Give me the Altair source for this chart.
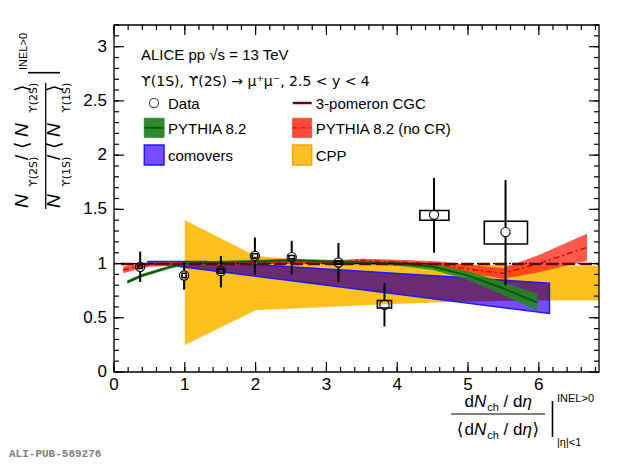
import altair as alt
import numpy as np
import pandas as pd

# ---------------- values ----------------
data_x  = [0.37, 0.99, 1.51, 1.99, 2.51, 3.17, 3.82, 4.52, 5.53]
data_y  = [0.97, 0.89, 0.93, 1.07, 1.06, 1.01, 0.62, 1.45, 1.29]
stat_lo = [0.83, 0.76, 0.78, 0.90, 0.90, 0.83, 0.42, 1.10, 0.80]
stat_hi = [1.11, 1.01, 1.07, 1.24, 1.21, 1.19, 0.82, 1.79, 1.77]
sys_lo  = [0.955, 0.87, 0.91, 1.05, 1.045, 0.995, 0.59, 1.40, 1.18]
sys_hi  = [0.985, 0.91, 0.95, 1.09, 1.075, 1.025, 0.66, 1.49, 1.39]
sys_xlo = [0.34, 0.96, 1.47, 1.95, 2.47, 3.13, 3.72, 4.32, 5.23]
sys_xhi = [0.40, 1.02, 1.55, 2.03, 2.55, 3.21, 3.92, 4.73, 5.84]

cpp_x  = [1.0, 2.0, 3.0, 4.0, 5.0, 6.0, 6.85]
cpp_lo = [0.25, 0.57, 0.60, 0.63, 0.65, 0.66, 0.66]
cpp_hi = [1.40, 1.07, 1.02, 1.00, 0.99, 0.98, 0.98]

com_x  = [0.48, 1.31, 6.15]
com_lo = [1.01, 0.94, 0.54]
com_hi = [1.02, 1.02, 0.82]

py_x = [0.19, 0.4, 0.6, 0.8, 1.0, 1.5, 2.0, 2.5, 3.0, 3.5, 4.0, 4.5, 5.0, 5.5, 5.98]
py_c = [0.83, 0.89, 0.93, 0.97, 1.00, 1.01, 1.02, 1.03, 1.02, 1.01, 1.00, 0.97, 0.89, 0.77, 0.64]
py_e = [0.015, 0.015, 0.015, 0.015, 0.015, 0.015, 0.015, 0.015, 0.015, 0.015, 0.02, 0.03, 0.04, 0.06, 0.08]

nocr_x = [0.13, 0.3, 0.5, 1.0, 1.5, 2.0, 2.5, 3.0, 3.5, 3.8, 4.2, 4.6, 5.0, 5.5, 6.0, 6.68]
nocr_c = [0.94, 0.97, 0.99, 1.00, 1.00, 1.01, 1.01, 1.01, 1.03, 1.02, 1.01, 0.99, 0.95, 0.91, 1.00, 1.15]
nocr_e = [0.03, 0.03, 0.02, 0.015, 0.015, 0.015, 0.015, 0.015, 0.015, 0.02, 0.02, 0.03, 0.04, 0.05, 0.08, 0.125]

cgc_x = [0.1, 1.0, 2.0, 3.0, 4.0, 5.0, 6.0, 6.85]
cgc_y = [0.995, 0.995, 0.995, 0.995, 0.995, 0.995, 0.995, 0.995]

x_major = [0, 1, 2, 3, 4, 5, 6]
x_labels = ["0", "1", "2", "3", "4", "5", "6"]
x_minor = [round(0.2 * i, 1) for i in range(35)]
y_major = [0, 0.5, 1, 1.5, 2, 2.5, 3]
y_labels = ["0", "0.5", "1", "1.5", "2", "2.5", "3"]
y_minor = [round(0.1 * i, 1) for i in range(33)]

# ---------------- layout ----------------
W, H = 485, 347
XMAX, YMAX = 6.85, 3.2
FONT = "Liberation Sans"
GREEK = "DejaVu Sans"
xs = alt.Scale(domain=[0, XMAX], nice=False, zero=False)
ys = alt.Scale(domain=[0, YMAX], nice=False, zero=False)


def X(f):
    return alt.X(f, type="quantitative", scale=xs, axis=None)


def Y(f):
    return alt.Y(f, type="quantitative", scale=ys, axis=None)


one = pd.DataFrame({"k": [0]})


def txt(s, x, y, size=15, italic=False, angle=0, align="left", baseline="middle",
        color="black", font=FONT, weight="normal"):
    p = dict(text=s, fontSize=size, font=font, align=align, baseline=baseline,
             color=color, fontWeight=weight)
    if italic:
        p["fontStyle"] = "italic"
    if angle:
        p["angle"] = angle
    return alt.Chart(one).mark_text(**p).encode(x=alt.value(x), y=alt.value(y))


def prule(x0, y0, x1, y1, color="black", width=1.3, dash=None):
    p = dict(color=color, strokeWidth=width)
    if dash:
        p["strokeDash"] = dash
    return alt.Chart(one).mark_rule(**p).encode(
        x=alt.value(x0), y=alt.value(y0), x2=alt.value(x1), y2=alt.value(y1))


def prect(x0, y0, x1, y1, fill, stroke=None, sw=1.5):
    p = dict(fill=fill)
    if stroke:
        p["stroke"] = stroke
        p["strokeWidth"] = sw
    return alt.Chart(one).mark_rect(**p).encode(
        x=alt.value(x0), x2=alt.value(x1), y=alt.value(y0), y2=alt.value(y1))


WID = {'d': 556, 'N': 722, 'c': 500, 'h': 556, '/': 278, 'η': 540,
       '⟨': 390, '⟩': 390}


def tw(s, size):
    return sum(WID.get(ch, 600) for ch in s) * size / 1000.0


# ---------------- tables ----------------
df_cpp = pd.DataFrame({"x": cpp_x, "lo": cpp_lo, "hi": cpp_hi})
df_com = pd.DataFrame({"x": com_x, "lo": com_lo, "hi": com_hi})
gx = np.linspace(cpp_x[0], com_x[-1], 400)
ilo = np.maximum(np.interp(gx, cpp_x, cpp_lo), np.interp(gx, com_x, com_lo))
ihi = np.minimum(np.interp(gx, cpp_x, cpp_hi), np.interp(gx, com_x, com_hi))
ihi = np.maximum(ihi, ilo)
df_int = pd.DataFrame({"x": gx, "lo": ilo, "hi": ihi})
df_py = pd.DataFrame({"x": py_x, "c": py_c,
                      "lo": np.array(py_c) - np.array(py_e),
                      "hi": np.array(py_c) + np.array(py_e)})
df_nc = pd.DataFrame({"x": nocr_x, "c": nocr_c,
                      "lo": np.array(nocr_c) - np.array(nocr_e),
                      "hi": np.array(nocr_c) + np.array(nocr_e)})
df_cgc = pd.DataFrame({"x": cgc_x, "y": cgc_y})
df_d = pd.DataFrame({"x": data_x, "y": data_y, "lo": stat_lo, "hi": stat_hi,
                     "sl": sys_lo, "sh": sys_hi, "sxl": sys_xlo, "sxh": sys_xhi})

layers = []
# CPP band
layers.append(alt.Chart(df_cpp).mark_area(color="#ffbf1f").encode(
    x=X("x"), y=Y("lo"), y2="hi"))
# comovers (violet, darker where it overlaps CPP)
layers.append(alt.Chart(df_com).mark_area(color="#7a4cff").encode(
    x=X("x"), y=Y("lo"), y2="hi"))
layers.append(alt.Chart(df_int).mark_area(color="#6a2a74").encode(
    x=X("x"), y=Y("lo"), y2="hi"))
layers.append(alt.Chart(df_com).mark_area(fillOpacity=0, stroke="#1a1aff", strokeWidth=1.5).encode(
    x=X("x"), y=Y("lo"), y2="hi"))
# PYTHIA no CR
layers.append(alt.Chart(df_nc).mark_area(color="#ff2a1a", opacity=0.78).encode(
    x=X("x"), y=Y("lo"), y2="hi"))
# PYTHIA
layers.append(alt.Chart(df_py).mark_area(color="#1f8a1f", opacity=0.85).encode(
    x=X("x"), y=Y("lo"), y2="hi"))
layers.append(alt.Chart(df_py).mark_line(color="#0a5a0a", strokeWidth=2).encode(
    x=X("x"), y=Y("c")))
layers.append(alt.Chart(df_nc).mark_line(color="#e00000", strokeWidth=1.5,
                                         strokeDash=[6, 3, 2, 3]).encode(
    x=X("x"), y=Y("c")))
# reference line at 1 and CGC
layers.append(alt.Chart(pd.DataFrame({"v": [1.0]})).mark_rule(
    color="black", strokeWidth=1.3, strokeDash=[8, 3, 2, 3]).encode(
    y=Y("v"), x=alt.value(0), x2=alt.value(W)))
layers.append(alt.Chart(df_cgc).mark_line(color="#5a0a0a", strokeWidth=2.5,
                                          strokeDash=[12, 5]).encode(
    x=X("x"), y=Y("y")))
# data
layers.append(alt.Chart(df_d).mark_rect(fillOpacity=0, stroke="black", strokeWidth=1.6).encode(
    x=X("sxl"), x2="sxh", y=Y("sl"), y2="sh"))
layers.append(alt.Chart(df_d).mark_rule(color="black", strokeWidth=2, y2Offset=-4.8).encode(
    x=X("x"), y=Y("hi"), y2="y"))
layers.append(alt.Chart(df_d).mark_rule(color="black", strokeWidth=2, yOffset=4.8).encode(
    x=X("x"), y=Y("y"), y2="lo"))
layers.append(alt.Chart(df_d).mark_point(shape="circle", filled=False, size=85,
                                         stroke="black", strokeWidth=1.1, opacity=1).encode(
    x=X("x"), y=Y("y")))

# frame ticks (inside, on all four sides)
TL_MAJ, TL_MIN = 10, 5
for vals, L in ((x_major, TL_MAJ), (x_minor, TL_MIN)):
    d = pd.DataFrame({"v": vals})
    layers.append(alt.Chart(d).mark_rule(color="black", strokeWidth=1.2).encode(
        x=X("v"), y=alt.value(H), y2=alt.value(H - L)))
    layers.append(alt.Chart(d).mark_rule(color="black", strokeWidth=1.2).encode(
        x=X("v"), y=alt.value(0), y2=alt.value(L)))
for vals, L in ((y_major, TL_MAJ), (y_minor, TL_MIN)):
    d = pd.DataFrame({"v": vals})
    layers.append(alt.Chart(d).mark_rule(color="black", strokeWidth=1.2).encode(
        y=Y("v"), x=alt.value(0), x2=alt.value(L)))
    layers.append(alt.Chart(d).mark_rule(color="black", strokeWidth=1.2).encode(
        y=Y("v"), x=alt.value(W), x2=alt.value(W - L)))
layers.append(alt.Chart(one).mark_rect(fillOpacity=0, stroke="black", strokeWidth=1.3).encode(
    x=alt.value(0), x2=alt.value(W), y=alt.value(0), y2=alt.value(H)))

# tick labels
layers.append(alt.Chart(pd.DataFrame({"v": x_major, "t": x_labels})).mark_text(
    font=FONT, fontSize=17, align="center", baseline="middle", color="black").encode(
    x=X("v"), y=alt.value(H + 13), text="t:N"))
layers.append(alt.Chart(pd.DataFrame({"v": y_major, "t": y_labels})).mark_text(
    font=FONT, fontSize=17, align="right", baseline="middle", color="black").encode(
    y=Y("v"), x=alt.value(-7), text="t:N"))

# header texts
layers.append(txt("ALICE pp √s = 13 TeV", 27, 30))
layers.append(txt("ϒ(1S), ϒ(2S) → μ⁺μ⁻, 2.5 < y < 4", 27, 57, size=14, font=GREEK))

# legend
layers.append(alt.Chart(one).mark_point(shape="circle", filled=False, size=85, stroke="black",
                                        strokeWidth=1.1).encode(x=alt.value(40), y=alt.value(78)))
layers.append(txt("Data", 54, 79))
layers.append(prule(178.7, 78, 197.7, 78, color="#5a0a0a", width=2.5))
layers.append(txt("3-pomeron CGC", 201.7, 79))
layers.append(prect(30.3, 93.3, 50, 112.3, "#2e8b2e", "#2e8b2e", 1))
layers.append(prule(30.3, 102.8, 50, 102.8, color="#0a5a0a", width=2))
layers.append(txt("PYTHIA 8.2", 54, 104))
layers.append(prect(178.7, 93.3, 197.7, 112.3, "#ff4a3a", "#ff4a3a", 1))
layers.append(prule(178.7, 102.8, 197.7, 102.8, color="#e00000", width=1.3, dash=[4, 2, 1, 2]))
layers.append(txt("PYTHIA 8.2 (no CR)", 201.7, 104))
layers.append(prect(30.3, 120, 50, 140, "#7a4cff", "#1a1aff", 1.5))
layers.append(txt("comovers", 54, 131))
layers.append(prect(178.7, 120, 197.7, 140, "#ffc12a", "#ffa000", 1.5))
layers.append(txt("CPP", 201.7, 131))


# x-axis title: segments (text, size, italic, dy, extra advance after)
def seg_width(segs):
    return sum(tw(s, z) + g for s, z, it, dy, g, f in segs)


def chain(segs, x0, yb):
    out = []
    x = x0
    for s, size, it, dy, gap, f in segs:
        out.append(txt(s, x, yb + dy, size=size, italic=it, baseline="alphabetic", font=f))
        x += tw(s, size) + gap
    return out


SP = 0.278 * 17
num = [("d", 17, False, 0, 0, FONT), ("N", 17, True, 0, 1, FONT),
       ("ch", 11, False, 4, SP, FONT), ("/", 17, False, 0, SP, FONT),
       ("d", 17, False, 0, 0, FONT), ("η", 17, True, 0, 0, FONT)]
cx = 384
layers += chain(num, cx - seg_width(num) / 2, 382)
den = [("⟨", 17, False, 0, 1, GREEK)] + num[:-1] + [("η", 17, True, 0, 1, FONT),
                                                    ("⟩", 17, False, 0, 0, GREEK)]
layers += chain(den, cx - seg_width(den) / 2, 410)
layers.append(prule(337, 389, 431, 389, width=1.2))
layers.append(prule(438.5, 376, 438.5, 412, width=1.6))
layers.append(txt("INEL>0", 443, 377, size=11, baseline="alphabetic"))
layers.append(txt("|η|<1", 443, 421, size=11, baseline="alphabetic"))


# y-axis title (rotated)
def ycol(xb, xsub, sub):
    out = []
    items = [("N", 183, xb, 19, True, FONT), ("ϒ(" + sub + ")", 162, xsub, 11, False, GREEK),
             ("/", 135, xb, 19, False, FONT), ("⟨", 124, xb, 19, False, GREEK),
             ("N", 112, xb, 19, True, FONT), ("ϒ(" + sub + ")", 88, xsub, 11, False, GREEK),
             ("⟩", 67, xb, 19, False, GREEK)]
    for s, y, x, size, it, f in items:
        out.append(txt(s, x, y, size=size, italic=it, angle=270, baseline="alphabetic", font=f))
    return out


layers += ycol(-86, -77, "2S")
layers += ycol(-54, -44, "1S")
layers.append(prule(-68.3, 58, -68.3, 184, width=1.3))
layers.append(prule(-86, 47.7, -54, 47.7, width=1.6))
layers.append(txt("INEL>0", -90, 45, size=11, angle=270))

# publication id
layers.append(txt("ALI-PUB-589276", -105, 429, size=11, font="Liberation Mono",
                  weight="bold", color="#808080"))

chart = alt.layer(*layers).properties(
    width=W, height=H,
    padding={"left": 106, "top": 17, "right": 13, "bottom": 88},
    autosize=alt.AutoSizeParams(type="none"),
    background="white",
).configure_view(stroke=None)

chart.save("out.html", embed_options={"renderer": "svg", "actions": False})
